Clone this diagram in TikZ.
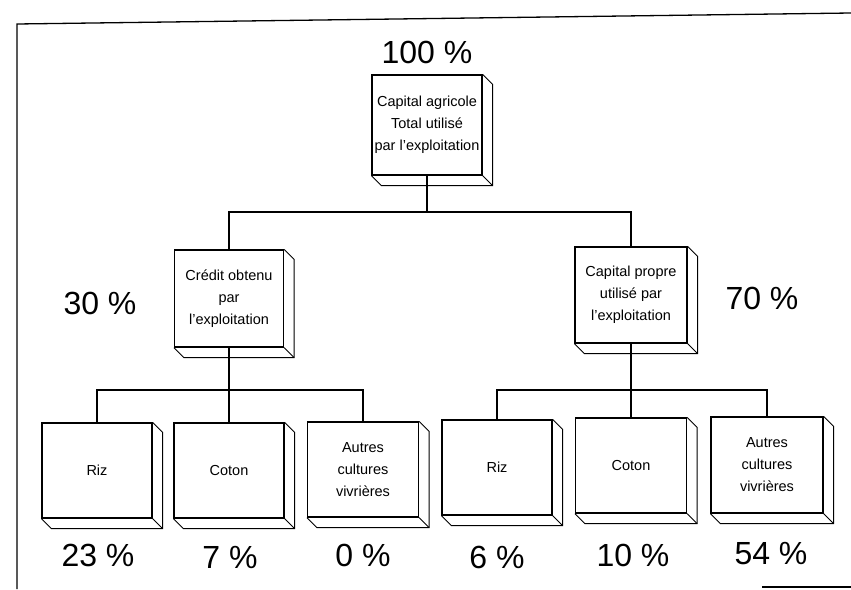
\documentclass[tikz,border=0pt]{standalone}
\usepackage{fontspec}
\setmainfont{Liberation Sans}
\begin{document}
\begin{tikzpicture}[x=1pt,y=-1pt,
 box/.style={draw,line width=1.2pt,fill=white,inner sep=0pt,align=center,font=\fontsize{14.5}{22}\selectfont},
 depth/.style={line width=0.8pt},
 pct/.style={font=\fontsize{32}{38}\selectfont,inner sep=0pt},
 conn/.style={line width=1.2pt},
 frame/.style={line width=1.3pt}]
\useasboundingbox (0,0) rectangle (851,589);
% frame
\draw[frame] (17,589) -- (17,24) -- (851,13);
\draw[frame] (762,587) -- (851,587);
% boxes
\node[box,minimum width=110pt,minimum height=100pt] (top) at (427,125) {Capital agricole\\Total utilisé\\par l'exploitation};
\node[box,minimum width=109pt,minimum height=97pt] (mL) at (229,298.5) {Crédit obtenu\\par\\l'exploitation};
\node[box,minimum width=112pt,minimum height=96pt] (mR) at (631,295) {Capital propre\\utilisé par\\l'exploitation};
\node[box,minimum width=110pt,minimum height=95pt] (b1) at (97,470.5) {Riz};
\node[box,minimum width=110pt,minimum height=95pt] (b2) at (229,470.5) {Coton};
\node[box,minimum width=111pt,minimum height=95pt] (b3) at (363,469.5) {Autres\\cultures\\vivrières};
\node[box,minimum width=110pt,minimum height=95pt] (b4) at (497,467.5) {Riz};
\node[box,minimum width=111pt,minimum height=95pt] (b5) at (631,465.5) {Coton};
\node[box,minimum width=112pt,minimum height=96pt] (b6) at (767,465) {Autres\\cultures\\vivrières};
% depth faces
\foreach \n in {top,mL,mR,b1,b2,b3,b4,b5,b6}{
  \draw[depth] (\n.north east) -- ++(10,10) -- ([shift={(10,10)}]\n.south east) -- ([shift={(10,10)}]\n.south west) -- (\n.south west);
  \draw[depth] (\n.south east) -- ++(10,10);
}
% connectors
\coordinate (j1) at (427,212);
\coordinate (j2) at (229,390);
\coordinate (j3) at (631,390);
\draw[conn] (top.south) -- (j1);
\draw[conn] (mL.north) |- (j1) -| (mR.north);
\draw[conn] (mL.south) -- (j2);
\draw[conn] (b1.north) |- (j2) -| (b3.north);
\draw[conn] (b2.north) -- (j2);
\draw[conn] (mR.south) -- (j3);
\draw[conn] (b4.north) |- (j3) -| (b6.north);
\draw[conn] (b5.north) -- (j3);
% percentages
\node[pct] (p100) at (427,52) {100 \%};
\node[pct] (p30) at (100,303) {30 \%};
\node[pct] (p70) at (762,298) {70 \%};
\node[pct] (p23) at (98,555) {23 \%};
\node[pct] (p7) at (230,557) {7 \%};
\node[pct] (p0) at (363,555) {0 \%};
\node[pct] (p6) at (497,557) {6 \%};
\node[pct] (p10) at (633,555) {10 \%};
\node[pct] (p54) at (771,554) {54 \%};
\end{tikzpicture}
\end{document}
